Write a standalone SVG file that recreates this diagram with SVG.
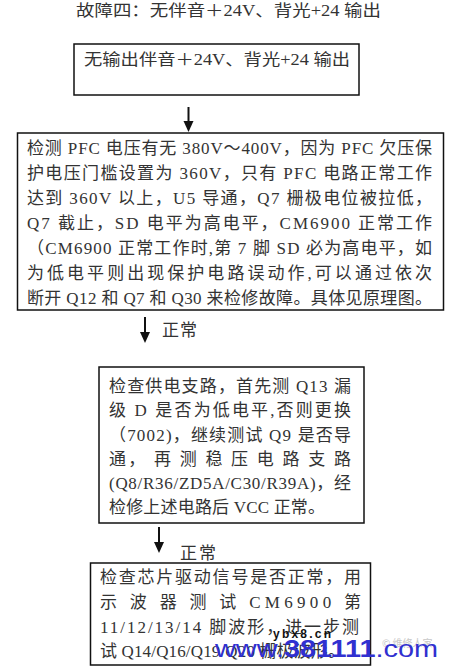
<svg xmlns="http://www.w3.org/2000/svg" width="452" height="666" viewBox="0 0 452 666">
<defs>
<style>
.t{font-family:"Liberation Serif","Noto Sans CJK SC",serif;fill:#333;}
.b{fill:#fff;stroke:#111;stroke-width:1.5;}
.c{stroke:#111;stroke-width:2;fill:none;}
.h{fill:#111;}
</style>
</defs>
<rect width="452" height="666" fill="#fff"/>
<text class="t" x="76" y="16" font-size="16" textLength="305" lengthAdjust="spacingAndGlyphs">故障四：无伴音＋24V、背光+24 输出</text>
<g id="connectors">
<line class="c" x1="188.5" y1="107" x2="188.5" y2="123"/>
<path class="h" d="M183.5,121 L193.5,121 L188.5,132 Z"/>
<line class="c" x1="145" y1="317" x2="145" y2="334"/>
<path class="h" d="M140,332 L150,332 L145,343 Z"/>
<line class="c" x1="159" y1="527" x2="159" y2="544"/>
<path class="h" d="M154,542 L164,542 L159,553 Z"/>
<text class="t" x="162" y="336" font-size="17" textLength="35" lengthAdjust="spacing">正常</text>
<text class="t" x="180" y="559" font-size="17" textLength="36" lengthAdjust="spacing">正常</text>
</g>
<g id="n1">
<rect class="b" x="74" y="44" width="285" height="51"/>
<text class="t" x="84" y="65" font-size="16" textLength="266" lengthAdjust="spacingAndGlyphs">无输出伴音＋24V、背光+24 输出</text>
</g>
<g id="n2">
<rect class="b" x="17.5" y="133" width="426" height="177"/>
<g class="t" font-size="17">
<text x="27" y="154" textLength="405" lengthAdjust="spacing">检测 PFC 电压有无 380V～400V，因为 PFC 欠压保</text>
<text x="27" y="179" textLength="405" lengthAdjust="spacing">护电压门槛设置为 360V，只有 PFC 电路正常工作</text>
<text x="27" y="204" textLength="405" lengthAdjust="spacing">达到 360V 以上，U5 导通，Q7 栅极电位被拉低，</text>
<text x="27" y="229" textLength="405" lengthAdjust="spacing">Q7 截止，SD 电平为高电平，CM6900 正常工作</text>
<text x="27" y="254" textLength="405" lengthAdjust="spacing">（CM6900 正常工作时,第 7 脚 SD 必为高电平，如</text>
<text x="27" y="279" textLength="405" lengthAdjust="spacing">为低电平则出现保护电路误动作,可以通过依次</text>
<text x="27" y="304" textLength="405" lengthAdjust="spacing">断开 Q12 和 Q7 和 Q30 来检修故障。具体见原理图。</text>
</g>
</g>
<g id="n3">
<rect class="b" x="99" y="367" width="265" height="156"/>
<g class="t" font-size="17">
<text x="109" y="392" textLength="242" lengthAdjust="spacing">检查供电支路，首先测 Q13 漏</text>
<text x="109" y="416" textLength="242" lengthAdjust="spacing">级 D 是否为低电平,否则更换</text>
<text x="109" y="441" textLength="242" lengthAdjust="spacing">（7002)，继续测试 Q9 是否导</text>
<text x="109" y="465" textLength="242" lengthAdjust="spacing">通， 再 测 稳 压 电 路 支 路</text>
<text x="109" y="489" textLength="242" lengthAdjust="spacing">(Q8/R36/ZD5A/C30/R39A)，经</text>
<text x="109" y="513" textLength="216" lengthAdjust="spacing">检修上述电路后 VCC 正常。</text>
</g>
</g>
<g id="n4">
<rect class="b" x="90.5" y="563" width="280" height="102"/>
<g class="t" font-size="17">
<text x="100" y="583" textLength="261" lengthAdjust="spacing">检查芯片驱动信号是否正常，用</text>
<text x="100" y="608" textLength="261" lengthAdjust="spacing">示 波 器 测 试 CM6900 第</text>
<text x="100" y="633" textLength="259" lengthAdjust="spacing">11/12/13/14 脚波形，进一步测</text>
<text x="100" y="657" textLength="245" lengthAdjust="spacing">试 Q14/Q16/Q19/Q20 栅极波形。</text>
</g>
</g>
<g id="watermark">
<text x="382" y="647" font-family="'Noto Sans CJK SC',sans-serif" font-size="10" fill="#c8c8c8">© 维修人家</text>
<text x="273" y="638" font-family="'Liberation Sans',sans-serif" font-weight="bold" font-size="12" fill="#111" textLength="58" lengthAdjust="spacing">ybx8.cn</text>
<text x="215" y="657" font-family="'Liberation Sans',sans-serif" font-size="23" fill="#3030d0" textLength="223" lengthAdjust="spacingAndGlyphs">www.<tspan font-weight="bold">381111</tspan>.com</text>
</g>
</svg>
